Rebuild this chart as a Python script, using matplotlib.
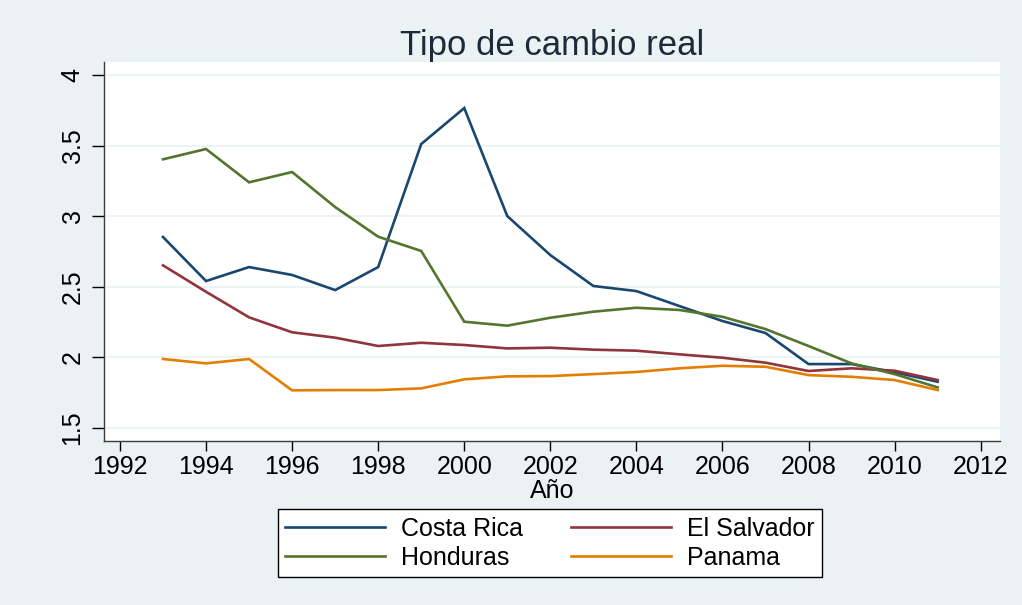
import matplotlib
matplotlib.use("Agg")
import matplotlib.pyplot as plt

# ---------------------------------------------------------------------------
# Data
# ---------------------------------------------------------------------------
years = list(range(1993, 2012))

costa_rica = [2.853, 2.541, 2.640, 2.584, 2.477, 2.640, 3.511, 3.766, 3.001,
              2.725, 2.506, 2.470, 2.364, 2.258, 2.173, 1.953, 1.953, 1.895, 1.828]
el_salvador = [2.652, 2.465, 2.284, 2.178, 2.140, 2.081, 2.104, 2.088, 2.064,
               2.069, 2.055, 2.048, 2.022, 1.998, 1.963, 1.904, 1.923, 1.906, 1.840]
honduras = [3.403, 3.476, 3.240, 3.313, 3.065, 2.855, 2.754, 2.253, 2.225,
            2.281, 2.324, 2.352, 2.336, 2.288, 2.201, 2.081, 1.958, 1.882, 1.788]
panama = [1.989, 1.958, 1.989, 1.767, 1.769, 1.769, 1.781, 1.845, 1.866,
          1.868, 1.882, 1.897, 1.923, 1.941, 1.934, 1.875, 1.863, 1.840, 1.769]

series_names = ["Costa Rica", "El Salvador", "Honduras", "Panama"]
series_vals = [costa_rica, el_salvador, honduras, panama]
series_colors = ["#1a476f", "#90353b", "#55752f", "#e37e00"]

x_ticks = list(range(1992, 2013, 2))
y_ticks = [1.5, 2, 2.5, 3, 3.5, 4]
y_ticklabels = ["1.5", "2", "2.5", "3", "3.5", "4"]

BG = "#eaf2f3"
FONT = "Liberation Sans"
FS = 18

# ---------------------------------------------------------------------------
# Plot
# ---------------------------------------------------------------------------
plt.rcParams["font.family"] = [FONT, "DejaVu Sans"]

fig = plt.figure(figsize=(10.22, 6.05), dpi=100, facecolor=BG)
ax = fig.add_axes([0.1018, 0.271, 0.8767, 0.6265])
ax.set_facecolor("white")

handles = {}
for name, vals, col in zip(series_names, series_vals, series_colors):
    (h,) = ax.plot(years, vals, color=col, lw=1.9, label=name,
                   solid_joinstyle="miter", zorder=3)
    handles[name] = h

ax.set_xlim(1991.63, 2012.45)
ax.set_ylim(1.408, 4.092)
ax.set_xticks(x_ticks)
ax.set_yticks(y_ticks)
ax.set_yticklabels(y_ticklabels, rotation=90, va="center")
ax.tick_params(axis="both", labelsize=FS, colors="black", width=1.0,
               direction="out")
ax.tick_params(axis="y", length=9, pad=5)
ax.tick_params(axis="x", length=7, pad=3)

ax.grid(axis="y", color=BG, lw=1.2, zorder=0)
ax.grid(axis="x", visible=False)

for side in ("top", "right"):
    ax.spines[side].set_visible(False)
for side in ("left", "bottom"):
    ax.spines[side].set_color("#3c3c3c")
    ax.spines[side].set_linewidth(1.0)

ax.set_xlabel("Año", fontsize=FS, labelpad=0)
ax.set_title("Tipo de cambio real", fontsize=25, color="#1c2a3a", pad=5)

# matplotlib fills legend columns first; this gives rows CR/ES, HN/PA
order = ["Costa Rica", "Honduras", "El Salvador", "Panama"]
leg = fig.legend([handles[n] for n in order], order,
                 loc="center", bbox_to_anchor=(0.538, 0.102), ncol=2,
                 fontsize=FS, frameon=True, fancybox=False, edgecolor="black",
                 facecolor="white", framealpha=1, handlelength=4.0,
                 handletextpad=0.65, columnspacing=1.9, borderpad=0.3,
                 labelspacing=0.2)
leg.get_frame().set_linewidth(1.0)

fig.savefig("out.png", dpi=100, facecolor=BG)
